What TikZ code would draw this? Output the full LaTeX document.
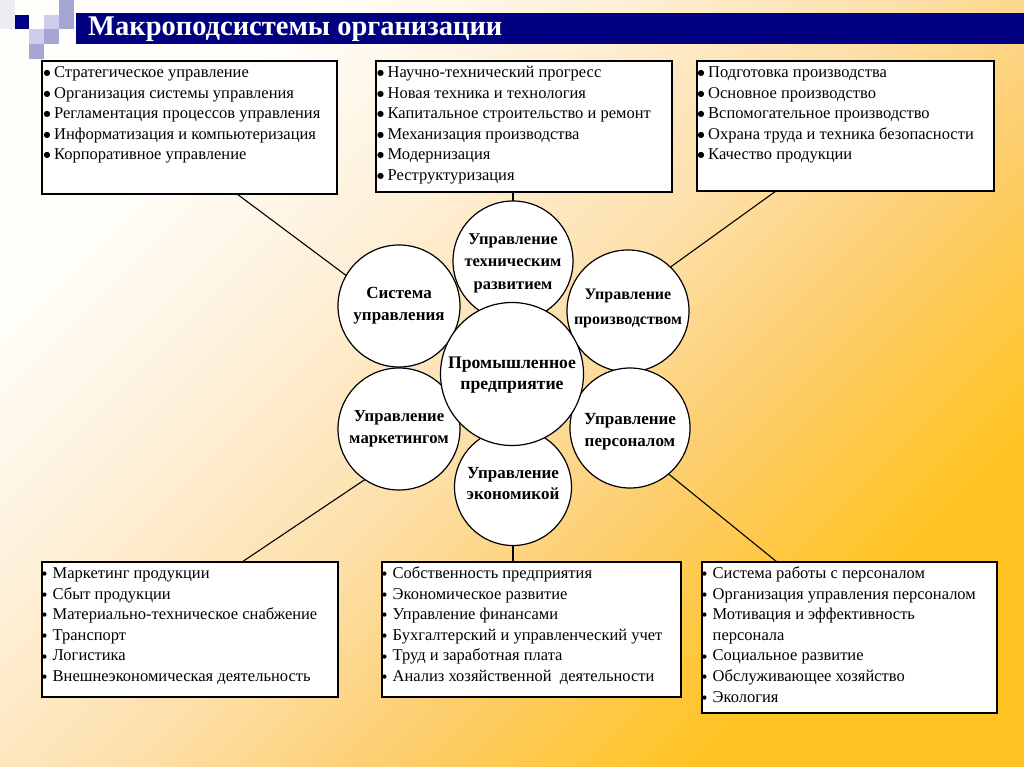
\documentclass[tikz,border=0pt]{standalone}
\usepackage{fontspec}
\setmainfont{Liberation Serif}
\newfontfamily\dvfont{DejaVu Sans}
\usetikzlibrary{calc}
\definecolor{navy}{RGB}{0,0,128}
\definecolor{sqlight}{RGB}{206,206,234}
\definecolor{sqmed}{RGB}{166,166,212}
\definecolor{sqvlight}{RGB}{236,236,242}
\definecolor{bggold}{RGB}{255,196,36}
\definecolor{bgmid}{RGB}{253,206,110}
\definecolor{bgcream}{RGB}{253,224,170}
\definecolor{bglight}{RGB}{254,239,214}
\definecolor{bgwhite}{RGB}{255,254,250}
\pgfdeclareverticalshading{bgsh}{100bp}{color(0bp)=(bggold); color(28bp)=(bggold); color(40bp)=(bgmid); color(50bp)=(bgcream); color(61bp)=(bglight); color(73bp)=(bgwhite); color(100bp)=(bgwhite)}
\newcommand\bl{\strut\makebox[10.5pt][l]{\raisebox{2pt}{\dvfont\fontsize{8}{8}\selectfont ●}}}
\newcommand\bls{\strut\makebox[10.5pt][l]{\raisebox{2.8pt}{\dvfont\fontsize{5.5}{5.5}\selectfont ●}}}
\newcommand\nb{\strut\makebox[10.5pt][l]{}}
\begin{document}
\begin{tikzpicture}[x=1pt,y=-1pt,
  box/.style={draw=black, line width=1.2pt, fill=white, anchor=north west, inner sep=0pt, outer sep=0pt},
  list/.style={anchor=north west, inner sep=0pt, align=left, font=\fontsize{16.5}{20.6}\selectfont},
  circ/.style={circle, draw=black, line width=1.2pt, fill=white, inner sep=0pt, outer sep=0pt},
  ctext/.style={align=center, inner sep=0pt, font=\bfseries\fontsize{17}{22}\selectfont},
  conn/.style={draw=black, line width=1.1pt},
  sq/.style={minimum size=14.7pt, inner sep=0pt, outer sep=0pt, anchor=north west, draw=none}]
\useasboundingbox (0,0) rectangle (1024,767);
\shade[shading=bgsh, shading angle=45] (0,0) rectangle (1024,767);
% decorative squares
\node[sq, fill=sqvlight] (s1) at (0,0) {};
\node[sq, fill=sqvlight] (s2) at (0,14.7) {};
\node[sq, fill=navy] (s3) at (14.7,14.7) {};
\node[sq, fill=sqlight] (s4) at (44.1,14.7) {};
\node[sq, fill=sqmed] (s5) at (58.8,0) {};
\node[sq, fill=sqmed] (s6) at (58.8,14.7) {};
\node[sq, fill=sqlight] (s7) at (29.4,29.4) {};
\node[sq, fill=sqmed] (s8) at (44.1,29.4) {};
\node[sq, fill=sqmed] (s9) at (29.4,44.1) {};
% title bar
\node[fill=navy, anchor=north west, minimum width=948pt, minimum height=31pt, inner sep=0pt, outer sep=0pt] (bar) at (76,13) {};
\node[anchor=west, text=white, inner sep=0pt, font=\bfseries\fontsize{28.5}{30}\selectfont] (title) at (88,29) {Макроподсистемы организации};
% boxes
\node[box, minimum width=295pt, minimum height=133pt] (boxTL) at (42,61) {};
\node[box, minimum width=296pt, minimum height=131pt] (boxTM) at (376,61) {};
\node[box, minimum width=297pt, minimum height=130pt] (boxTR) at (697,61) {};
\node[box, minimum width=296pt, minimum height=135pt] (boxBL) at (42,562) {};
\node[box, minimum width=299pt, minimum height=135pt] (boxBM) at (382,562) {};
\node[box, minimum width=295pt, minimum height=151pt] (boxBR) at (702,562) {};
\node[list] (tTL) at ($(boxTL.north west)+(1.5,1.8)$) {\bl Стратегическое управление\\\bl Организация системы управления\\\bl Регламентация процессов управления\\\bl Информатизация и компьютеризация\\\bl Корпоративное управление};
\node[list] (tTM) at ($(boxTM.north west)+(1,1.8)$) {\bl Научно-технический прогресс\\\bl Новая техника и технология\\\bl Капитальное строительство и ремонт\\\bl Механизация производства\\\bl Модернизация\\\bl Реструктуризация};
\node[list] (tTR) at ($(boxTR.north west)+(0.5,1.8)$) {\bl Подготовка производства\\\bl Основное производство\\\bl Вспомогательное производство\\\bl Охрана труда и техника безопасности\\\bl Качество продукции};
\node[list] (tBL) at ($(boxBL.north west)+(0,1.8)$) {\bls Маркетинг продукции\\\bls Сбыт продукции\\\bls Материально-техническое снабжение\\\bls Транспорт\\\bls Логистика\\\bls Внешнеэкономическая деятельность};
\node[list] (tBM) at ($(boxBM.north west)+(0,1.8)$) {\bls Собственность предприятия\\\bls Экономическое развитие\\\bls Управление финансами\\\bls Бухгалтерский и управленческий учет\\\bls Труд и заработная плата\\\bls Анализ хозяйственной\ \ деятельности};
\node[list] (tBR) at ($(boxBR.north west)+(0,1.8)$) {\bls Система работы с персоналом\\\bls Организация управления персоналом\\\bls Мотивация и эффективность\\\nb персонала\\\bls Социальное развитие\\\bls Обслуживающее хозяйство\\\bls Экология};
% circles
\node[circ, minimum size=120pt] (tech) at (513,261) {};
\node[circ, minimum size=122pt] (sys) at (399,306) {};
\node[circ, minimum size=122pt] (prod) at (628,311) {};
\node[circ, minimum size=122pt] (mkt) at (399,429) {};
\node[circ, minimum size=120pt] (pers) at (630,428) {};
\node[circ, minimum size=117pt] (econ) at (513,487) {};
\node[circ, minimum size=143pt] (ent) at (512,374) {};
\node[ctext, font=\bfseries\fontsize{16.5}{22.5}\selectfont] (ttech) at (513,263) {Управление\\техническим\\развитием};
\node[ctext] (tsys) at (399,306) {Система\\управления};
\node[ctext, font=\bfseries\fontsize{16}{25}\selectfont] (tprod) at (628,308) {Управление\\производством};
\node[ctext, font=\bfseries\fontsize{16.7}{22}\selectfont] (tmkt) at (399,429) {Управление\\маркетингом};
\node[ctext] (tpers) at (630,432) {Управление\\персоналом};
\node[ctext, font=\bfseries\fontsize{17}{21}\selectfont] (tecon) at (513,484) {Управление\\экономикой};
\node[ctext, font=\bfseries\fontsize{17.7}{20.5}\selectfont] (tent) at (512,375) {Промышленное\\предприятие};
% connectors
\coordinate (aTL) at (237,194);
\coordinate (aTM) at (513,192);
\coordinate (aTR) at (776,191);
\coordinate (aBL) at (242,562);
\coordinate (aBM) at (513,562);
\coordinate (aBR) at (777,562);
\draw[conn] (aTL) -- (sys.150);
\draw[conn] (aTM) -- (tech.90);
\draw[conn] (aTR) -- (prod.46);
\draw[conn] (aBL) -- (mkt.236);
\draw[conn] (aBM) -- (econ.270);
\draw[conn] (aBR) -- (pers.310);
\end{tikzpicture}
\end{document}
